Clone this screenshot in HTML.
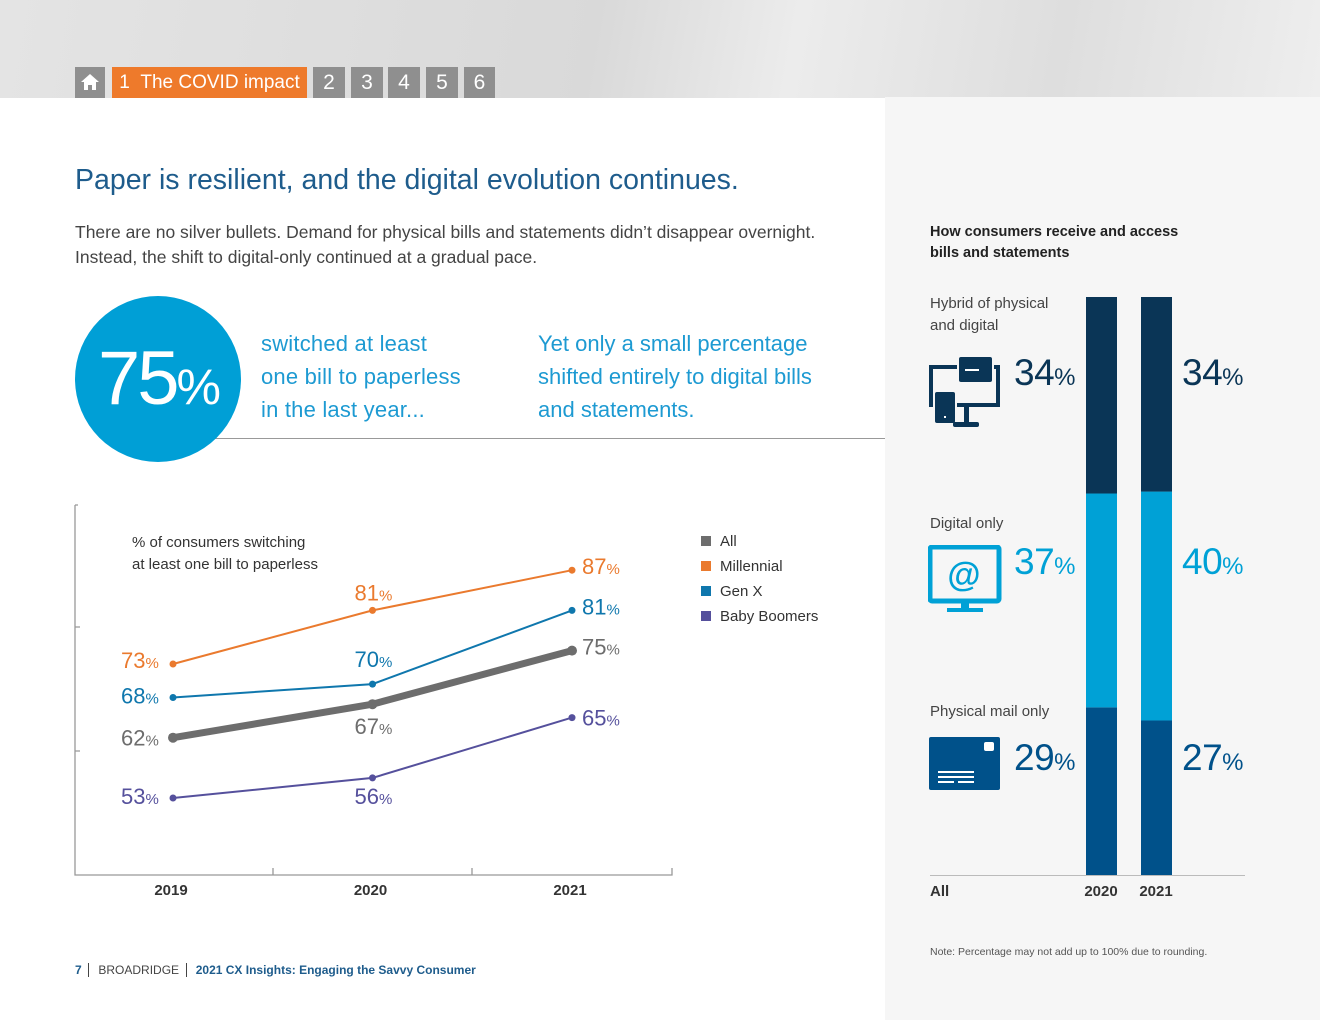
<!DOCTYPE html>
<html><head><meta charset="utf-8">
<style>
body{margin:0;width:1320px;height:1020px;position:relative;background:#fff;font-family:"Liberation Sans",sans-serif;overflow:hidden}
.abs{position:absolute}
.nav{position:absolute;top:67px;height:31px;background:#8f8f8f;color:#fff;font-size:21px;line-height:31px;text-align:center}
</style></head><body>
<div class="abs" style="left:0;top:0;width:1320px;height:98px;background:linear-gradient(100deg,#e4e4e4 0%,#d9d9d9 45%,#ececec 60%,#dedede 80%,#eeeeee 100%)"></div>
<div class="nav" style="left:75px;width:30px">
<svg width="20" height="20" viewBox="0 0 20 20" style="margin-top:5px"><path d="M10 2 L19 10 H16 V18 H12 V13 H8 V18 H4 V10 H1 Z" fill="#fff"/></svg></div>
<div class="nav" style="left:112px;width:195px;background:#ee7a2b;font-size:19px">1&nbsp;&nbsp;The COVID impact</div>
<div class="nav" style="left:313px;width:32px">2</div>
<div class="nav" style="left:351px;width:32px">3</div>
<div class="nav" style="left:388px;width:32px">4</div>
<div class="nav" style="left:426px;width:32px">5</div>
<div class="nav" style="left:464px;width:31px">6</div>

<div class="abs" style="left:885px;top:97px;width:435px;height:923px;background:#f6f6f6"></div>

<div class="abs" style="left:75px;top:164px;font-size:28.5px;color:#1e5c8c">Paper is resilient, and the digital evolution continues.</div>
<div class="abs" style="left:75px;top:220px;font-size:17.5px;line-height:25px;color:#444">There are no silver bullets. Demand for physical bills and statements didn’t disappear overnight.<br>Instead, the shift to digital-only continued at a gradual pace.</div>

<div class="abs" style="left:200px;top:438px;width:685px;height:1px;background:#999"></div>
<div class="abs" style="left:75px;top:296px;width:166px;height:166px;border-radius:50%;background:#009fd6;color:#fff;font-size:76px;line-height:166px;text-align:center;font-weight:300;letter-spacing:-3px">75<span style="font-size:50px">%</span></div>
<div class="abs" style="left:261px;top:327px;font-size:22px;line-height:33px;color:#1d9ad2;letter-spacing:0.2px">switched at least<br>one bill to paperless<br>in the last year...</div>
<div class="abs" style="left:538px;top:327px;font-size:22px;line-height:33px;color:#1d9ad2;letter-spacing:0px">Yet only a small percentage<br>shifted entirely to digital bills<br>and statements.</div>

<svg class="abs" style="left:0;top:0" width="885" height="1020" id="lc"></svg>

<div class="abs" style="left:132px;top:532px;font-size:15px;line-height:22px;color:#333">% of consumers switching<br>at least one bill to paperless</div>
<div class="abs" style="left:701px;top:529px;font-size:15px;line-height:25px;color:#333" id="legend"></div>

<div class="abs" style="left:75px;top:963px;font-size:12px;color:#444"><span style="color:#1e5c8c;font-weight:bold">7</span> &nbsp;<span style="border-left:1px solid #444;padding-left:9px">BROADRIDGE</span> &nbsp;<span style="border-left:1px solid #444;padding-left:9px;color:#1e5c8c;font-weight:bold">2021 CX Insights: Engaging the Savvy Consumer</span></div>

<div class="abs" style="left:930px;top:222px;font-size:14.5px;line-height:21px;color:#222;font-weight:bold">How consumers receive and access<br>bills and statements</div>
<div class="abs" style="left:930px;top:293px;font-size:15px;line-height:22px;color:#444">Hybrid of physical<br>and digital</div>
<div class="abs" style="left:930px;top:515px;font-size:15px;color:#444">Digital only</div>
<div class="abs" style="left:930px;top:703px;font-size:15px;color:#444">Physical mail only</div>
<svg class="abs" style="left:928px;top:355px" width="74" height="75">
<rect x="3" y="12" width="67" height="38" fill="none" stroke="#0a3556" stroke-width="4"/>
<rect x="29" y="0" width="37" height="29" fill="#f6f6f6"/>
<rect x="31" y="2" width="33" height="25" rx="2" fill="#0a3556"/><rect x="37" y="14" width="14" height="2" fill="#fff"/>
<rect x="5" y="35" width="24" height="35" fill="#f6f6f6"/>
<rect x="7" y="37" width="20" height="31" rx="2" fill="#0a3556"/><rect x="16" y="61" width="2" height="2" fill="#fff"/>
<rect x="36" y="50" width="5" height="17" fill="#0a3556"/><rect x="25" y="67" width="26" height="5" rx="2" fill="#0a3556"/></svg>
<svg class="abs" style="left:928px;top:545px" width="74" height="70">
<rect x="2" y="2" width="69" height="54" rx="2" fill="none" stroke="#00a1d6" stroke-width="5"/><text x="36" y="41" text-anchor="middle" font-size="34" font-weight="bold" fill="#00a1d6" font-family="Liberation Sans">@</text>
<rect x="33" y="56" width="8" height="7" fill="#00a1d6"/><rect x="19" y="63" width="36" height="4" fill="#00a1d6"/></svg>
<svg class="abs" style="left:928px;top:737px" width="74" height="54">
<rect x="1" y="0" width="71" height="53" rx="2" fill="#00518a"/><rect x="56" y="5" width="10" height="9" rx="2" fill="#fff"/>
<rect x="10" y="34" width="36" height="2" fill="#fff"/><rect x="10" y="39" width="36" height="2" fill="#fff"/><rect x="10" y="44" width="16" height="2" fill="#fff"/><rect x="30" y="44" width="16" height="2" fill="#fff"/></svg>

<svg class="abs" style="left:885px;top:0" width="435" height="1020" id="bc"></svg>
<div class="abs" style="left:930px;top:946px;font-size:10.5px;color:#555">Note: Percentage may not add up to 100% due to rounding.</div>

<script>
const NS='http://www.w3.org/2000/svg';
function mk(p,t,a){const e=document.createElementNS(NS,t);for(const k in a)e.setAttribute(k,a[k]);p.appendChild(e);return e;}
// line chart data
const years=['2019','2020','2021'];
const seriesNames=['All','Millennial','Gen X','Baby Boomers'];
const allVals=[62,67,75];
const millVals=[73,81,87];
const genxVals=[68,70,81];
const boomVals=[53,56,65];
const colors=['#6d6d6d','#ea7a2e','#0f77ad','#55509c'];
const widths=[7,2,2,2];
const lc=document.getElementById('lc');
const xS=i=>173+i*199.5;
const yS=v=>1153.1-6.7*v;
mk(lc,'path',{d:'M75 505 H78 M75 505 V875 H672 V868 M75 627 H80 M75 751 H80 M273 875 V868 M472 875 V868',stroke:'#999',fill:'none','stroke-width':1.3});
years.forEach((y,i)=>{const t=mk(lc,'text',{x:xS(i)-2,y:895,'text-anchor':'middle','font-size':15,fill:'#333','font-weight':'bold','font-family':'Liberation Sans'});t.textContent=y;

});
const data=[allVals,millVals,genxVals,boomVals];
const labelOff=[[{dx:-52,dy:8},{dx:-18,dy:30},{dx:10,dy:4}],[{dx:-52,dy:4},{dx:-18,dy:-10},{dx:10,dy:4}],[{dx:-52,dy:6},{dx:-18,dy:-17},{dx:10,dy:4}],[{dx:-52,dy:6},{dx:-18,dy:26},{dx:10,dy:8}]];
[1,2,3,0].forEach(s=>{
  const vals=data[s];
  const pts=vals.map((v,i)=>xS(i)+','+yS(v)).join(' ');
  const pl=mk(lc,'polyline',{points:pts,fill:'none',stroke:colors[s],'stroke-width':widths[s],'stroke-linecap':'round'});
  
  
  vals.forEach((v,i)=>{
    const c=mk(lc,'circle',{cx:xS(i),cy:yS(v),r:s===0?5:3.5,fill:colors[s]});
    
    
    const o=labelOff[s][i];
    const t=mk(lc,'text',{x:xS(i)+o.dx,y:yS(v)+o.dy,'font-size':22,fill:colors[s],'font-family':'Liberation Sans'});
    t.innerHTML=v+'<tspan font-size="15">%</tspan>';
    
    
  });
});
const lg=document.getElementById('legend');
seriesNames.forEach((n,i)=>{const d=document.createElement('div');
d.innerHTML='<span style="display:inline-block;width:10px;height:10px;background:'+colors[i]+';margin-right:9px"></span>'+n;


lg.appendChild(d);});
// bar chart
const barYears=['2020','2021'];
const hybridVals=[34,34];
const digitalVals=[37,40];
const physicalVals=[29,27];
const bc=document.getElementById('bc');
const segCols=['#00518a','#00a1d6','#0a3556'];
const segData=[physicalVals,digitalVals,hybridVals];
const segNames=['physical','digital','hybrid'];
const base=875,fullH=578;
const bx=i=>201+i*55;
barYears.forEach((yr,i)=>{
  let cum=0;
  const tot=segData.reduce((a,arr)=>a+arr[i],0);
  segData.forEach((arr,s)=>{
    const h=arr[i]/tot*fullH;
    const r=mk(bc,'rect',{x:bx(i),y:base-cum-h,width:31,height:h,fill:segCols[s]});
    
    
    cum+=h;
  });
  const t=mk(bc,'text',{x:bx(i)+15,y:896,'text-anchor':'middle','font-size':15,'font-weight':'bold',fill:'#333','font-family':'Liberation Sans'});
  t.textContent=yr;
  
  
});
mk(bc,'line',{x1:45,x2:360,y1:875.5,y2:875.5,stroke:'#bbb'});
const at=mk(bc,'text',{x:45,y:896,'font-size':15,'font-weight':'bold',fill:'#333','font-family':'Liberation Sans'});at.textContent='All';
const valYs=[770,574,385];
const valX=[129,297];
const valCols=['#00518a','#00a1d6','#0a3556'];
barYears.forEach((yr,i)=>{segData.forEach((arr,s)=>{
  const t=mk(bc,'text',{x:valX[i],y:valYs[s],'font-size':37,fill:valCols[s],'font-family':'Liberation Sans','letter-spacing':-0.5});
  t.innerHTML=arr[i]+'<tspan font-size="24" letter-spacing="0">%</tspan>';
  
  
});});
</script>
</body></html>
